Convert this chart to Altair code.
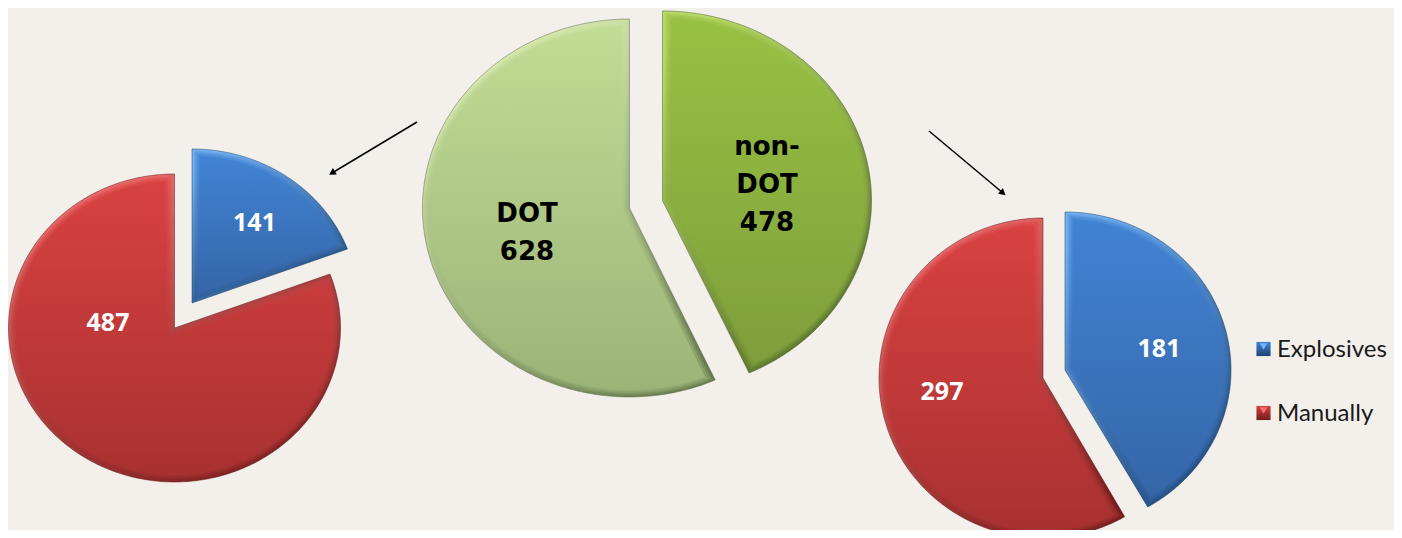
import numpy as np
import pandas as pd
import altair as alt

# Labels printed on the slices
center_labels = [["non-", "DOT", "478"], ["DOT", "628"]]
center_values = [478, 628]
left_values = [141, 487]
right_values = [181, 297]
legend_names = ["Explosives", "Manually"]

# Share of each pie as drawn in the picture (percent)
center_shares = [43.2, 56.8]
left_shares = [19.3, 80.7]
right_shares = [41.7, 58.3]

BG = "#f3f0ec"
W, H = 1386, 522
X = alt.Scale(domain=[8, 1394])
Y = alt.Scale(domain=[530, 8])

PAL = {
    "dot": dict(b0="#c2dc94", b1="#9cb478", r0="#e6f4c0", r1="#66794e"),
    "non": dict(b0="#97c142", b1="#7f9f3c", r0="#bcdc70", r1="#4f6626"),
    "blue": dict(b0="#4183d3", b1="#3566a8", r0="#78b4f2", r1="#1c4474"),
    "red": dict(b0="#d94141", b1="#a93131", r0="#f07474", r1="#721c1c"),
}
# pie layout: slice palette, vertex of the slice, ellipse radii
PIES = [
    (center_shares, [("non", (662.5, 200.5), 209, 189.5), ("dot", (629.5, 208), 207, 189)]),
    (left_shares, [("blue", (192, 303), 166, 154), ("red", (174.5, 328), 166, 154)]),
    (right_shares, [("blue", (1065, 370), 166, 158), ("red", (1043, 378), 164, 160)]),
]
INSETS = [0, 1, 2, 3, 4, 5.5, 7]


def mix(a, b, t):
    ca = [int(a[i:i + 2], 16) for i in (1, 3, 5)]
    cb = [int(b[i:i + 2], 16) for i in (1, 3, 5)]
    return "#" + "".join(f"{round(p + (q - p) * t):02x}" for p, q in zip(ca, cb))


def wedge(a0, a1, V, rx, ry, d):
    t = np.radians(np.linspace(a0, a1, 260))
    V = np.array(V, float)
    px = V[0] + (rx - d) * np.sin(t)
    py = V[1] - (ry - d) * np.cos(t)
    def unit(a):
        u = np.array([rx * np.sin(np.radians(a)), -ry * np.cos(np.radians(a))])
        return u / np.linalg.norm(u)
    u0, u1 = unit(a0), unit(a1)
    n0 = np.array([-u0[1], u0[0]])
    n1 = np.array([u1[1], -u1[0]])
    d0 = (px - V[0]) * n0[0] + (py - V[1]) * n0[1]
    d1 = (px - V[0]) * n1[0] + (py - V[1]) * n1[1]
    keep = (np.maximum(d0, d1) if a1 - a0 > 180 else np.minimum(d0, d1)) >= d - 1e-6
    w = np.linalg.solve(np.array([n0, n1]), np.array([d, d])) + V
    xs = np.concatenate([[w[0]], px[keep], [w[0]]])
    ys = np.concatenate([[w[1]], py[keep], [w[1]]])
    return pd.DataFrame({"x": xs, "y": ys, "i": np.arange(len(xs))})


def grad(c0, c1, x1=0.5, x2=0.5):
    return alt.Gradient(
        gradient="linear", x1=x1, y1=0, x2=x2, y2=1,
        stops=[alt.GradientStop(color=c0, offset=0), alt.GradientStop(color=c1, offset=1)],
    )


layers = []
for shares, slices in PIES:
    start = 0.0
    for share, (pal, V, rx, ry) in zip(shares, slices):
        end = start + share * 3.6
        p = PAL[pal]
        for k, d in enumerate(INSETS):
            f = k / (len(INSETS) - 1)
            x1, x2 = 0.5 - 0.3 * (1 - f), 0.5 + 0.3 * (1 - f)
            fill = grad(mix(p["r0"], p["b0"], f), mix(p["r1"], p["b1"], f), x1, x2)
            style = dict(stroke=p["r1"], strokeOpacity=0.55, strokeWidth=1) if k == 0 else dict(stroke=None)
            layers.append(
                alt.Chart(wedge(start, end, V, rx, ry, d))
                .mark_line(fill=fill, filled=True, interpolate="linear", **style)
                .encode(
                    x=alt.X("x:Q", scale=X, axis=None),
                    y=alt.Y("y:Q", scale=Y, axis=None),
                    order=alt.Order("i:Q"),
                )
            )
        start = end


def text_layer(rows, font, size, color, align="center"):
    return (
        alt.Chart(pd.DataFrame(rows, columns=["x", "y", "t"]))
        .mark_text(font=font, fontSize=size, fontWeight="bold" if color != "#1a1a1a" else "normal",
                   fill=color, align=align, baseline="middle")
        .encode(x=alt.X("x:Q", scale=X, axis=None), y=alt.Y("y:Q", scale=Y, axis=None), text="t:N")
    )


layers.append(text_layer(
    [(767, 147, center_labels[0][0]), (767, 185, center_labels[0][1]), (767, 223, center_labels[0][2]),
     (527, 214, center_labels[1][0]), (527, 252, center_labels[1][1])],
    "DejaVu Sans", 26, "#000000"))
layers.append(text_layer(
    [(254.5, 223, str(left_values[0])), (108, 323, str(left_values[1])),
     (1159, 349, str(right_values[0])), (942, 392, str(right_values[1]))],
    "Open Sans", 25, "#ffffff"))

# legend
for name, y, pal in zip(legend_names, [349, 413], ["blue", "red"]):
    p = PAL[pal]
    pt = pd.DataFrame({"x": [1263.5], "y": [y]})
    layers.append(alt.Chart(pt).mark_point(shape="square", filled=True, size=200, opacity=1,
                                           fill=grad(p["b0"], p["r1"]), stroke=None)
                  .encode(x=alt.X("x:Q", scale=X, axis=None), y=alt.Y("y:Q", scale=Y, axis=None)))
    layers.append(alt.Chart(pd.DataFrame({"x": [1263.5], "y": [y - 2.5]}))
                  .mark_point(shape="triangle-down", filled=True, size=60, opacity=1, fill=p["r0"], stroke=None)
                  .encode(x=alt.X("x:Q", scale=X, axis=None), y=alt.Y("y:Q", scale=Y, axis=None)))
layers.append(text_layer([(1277, 350, legend_names[0]), (1277, 414, legend_names[1])],
                         "Lato", 24, "#1a1a1a", "left"))

# arrows
for (x0, y0), (x1, y1) in [((417, 122), (332, 173)), ((929, 131), (1003, 193))]:
    seg = pd.DataFrame({"x": [x0, x1], "y": [y0, y1], "i": [0, 1]})
    layers.append(alt.Chart(seg).mark_line(color="#000000", strokeWidth=1.5)
                  .encode(x=alt.X("x:Q", scale=X, axis=None), y=alt.Y("y:Q", scale=Y, axis=None),
                          order=alt.Order("i:Q")))
    ang = float(np.degrees(np.arctan2(x1 - x0, -(y1 - y0)))) % 360
    layers.append(alt.Chart(pd.DataFrame({"x": [x1], "y": [y1]}))
                  .mark_point(shape="triangle-up", filled=True, size=60, angle=ang, opacity=1,
                              fill="#000000", stroke=None)
                  .encode(x=alt.X("x:Q", scale=X, axis=None), y=alt.Y("y:Q", scale=Y, axis=None)))

chart = (
    alt.layer(*layers)
    .properties(width=W, height=H, background=BG, padding=0,
                autosize=alt.AutoSizeParams(type="none"))
    .configure_view(stroke=None)
)
chart.save("out.html", embed_options={"renderer": "svg", "actions": False})
